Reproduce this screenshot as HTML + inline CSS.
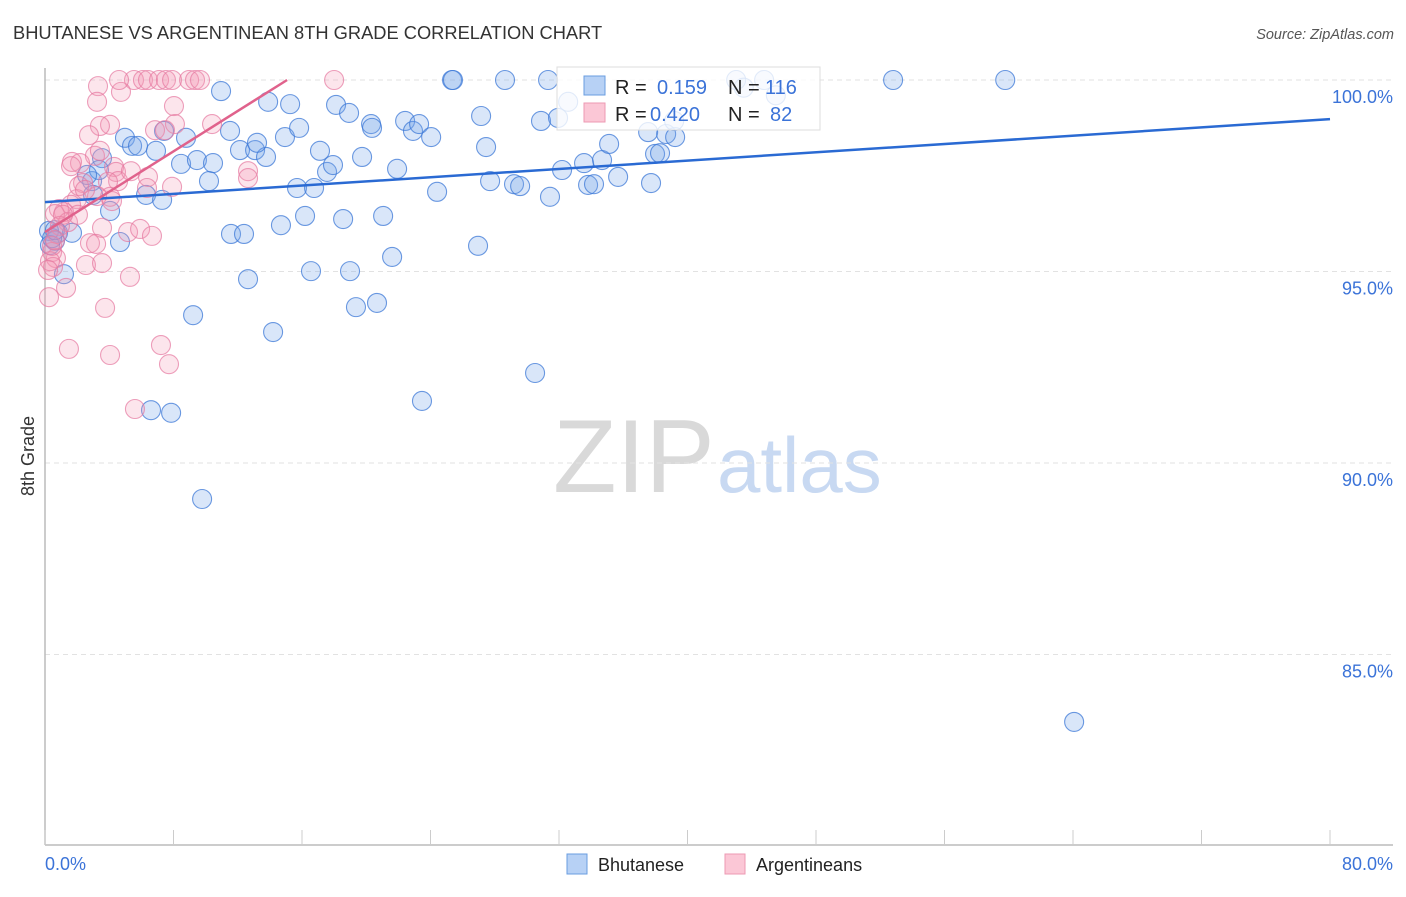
<!DOCTYPE html>
<html><head><meta charset="utf-8"><style>
body{margin:0;background:#fff;}
svg text{font-family:"Liberation Sans",sans-serif;}
</style></head><body>
<svg id="chart" width="1406" height="892" xmlns="http://www.w3.org/2000/svg">
<text x="13" y="39" font-size="18.3" fill="#333">BHUTANESE VS ARGENTINEAN 8TH GRADE CORRELATION CHART</text>
<text x="1394" y="39" font-size="14.5" fill="#555" font-style="italic" text-anchor="end">Source: ZipAtlas.com</text>
<g>
<text x="553" y="492" font-size="104" fill="#d9d9d9" font-family="Liberation Serif,serif">ZIP</text>
<text x="717" y="492" font-size="78" fill="#c8d9f2">atlas</text>
</g>
<g id="grid"></g>
<g id="axes"></g>
<g id="pts"></g>
<g id="trend"></g>
<g>
<rect x="557" y="67" width="263" height="63" fill="rgba(255,255,255,0.8)" stroke="#ddd"/>
<rect x="584" y="76" width="21" height="19" fill="#b7d1f5" stroke="#6a9de0"/>
<rect x="584" y="103" width="21" height="19" fill="#fbc7d6" stroke="#ec9ab3"/>
<text x="615" y="94" font-size="20" fill="#222">R =</text>
<text x="657" y="94" font-size="20" fill="#3b73d8">0.159</text>
<text x="728" y="94" font-size="20" fill="#222">N =</text>
<text x="765" y="94" font-size="20" fill="#3b73d8">116</text>
<text x="615" y="121" font-size="20" fill="#222">R =</text>
<text x="650" y="121" font-size="20" fill="#3b73d8">0.420</text>
<text x="728" y="121" font-size="20" fill="#222">N =</text>
<text x="770" y="121" font-size="20" fill="#3b73d8">82</text>
</g>
<text transform="translate(34,456) rotate(-90)" font-size="18" fill="#333" text-anchor="middle">8th Grade</text>
<text x="45" y="870" font-size="18" fill="#3b73d8">0.0%</text>
<text x="1393" y="870" font-size="18" fill="#3b73d8" text-anchor="end">80.0%</text>
<g>
<rect x="567" y="854" width="20" height="20" fill="#b7d1f5" stroke="#6a9de0"/>
<text x="598" y="871" font-size="18" fill="#222">Bhutanese</text>
<rect x="725" y="854" width="20" height="20" fill="#fbc7d6" stroke="#ec9ab3"/>
<text x="756" y="871" font-size="18" fill="#222">Argentineans</text>
</g>
</svg>
<script>
const yTicks=[100,95,90,85];
const yTickLabels=["100.0%","95.0%","90.0%","85.0%"];
const xTicks=[0,8,16,24,32,40,48,56,64,72,80];
const blueX=[10.96,25.34,28.64,31.32,25.40,43.03,44.77,52.80,59.78,13.89,15.26,18.12,18.93,27.15,22.42,22.91,23.29,24.04,20.30,20.36,30.88,31.94,32.57,11.52,8.78,7.41,4.98,5.42,5.79,6.91,12.14,13.08,13.76,13.20,14.94,15.82,17.12,19.74,17.56,17.93,21.92,27.46,15.69,16.75,24.41,27.71,29.20,29.58,31.44,32.19,33.56,33.81,34.18,34.68,35.12,35.68,37.55,37.98,38.29,37.73,38.67,39.23,39.17,8.47,9.46,10.46,10.21,3.55,2.93,3.36,2.62,4.05,6.29,7.29,2.99,0.81,0.62,1.68,4.67,11.58,12.39,14.69,16.19,18.56,21.05,26.96,21.61,16.56,18.99,12.64,1.18,19.36,20.67,9.22,14.20,30.51,23.47,6.60,7.85,9.78,64.07,0.25,0.31,0.44,0.62,43.5,45.5];
const blueY=[99.71,100,100,100,100,100,100,100,100,99.43,99.37,99.35,99.14,99.06,98.93,98.67,98.85,98.51,98.85,98.75,98.93,99.01,99.43,98.67,98.49,98.67,98.49,98.28,98.28,98.15,98.17,98.17,97.99,98.36,98.51,98.75,98.15,97.99,97.60,97.78,97.68,98.25,97.18,97.18,97.08,97.36,97.28,97.23,96.95,97.65,97.83,97.26,97.28,97.91,98.33,97.47,98.64,98.07,98.09,97.31,98.59,98.51,98.93,97.81,97.91,97.83,97.36,97.96,97.36,97.65,97.52,96.58,97.00,96.87,97.00,96.01,95.80,96.01,95.77,95.98,95.98,96.21,96.45,96.37,96.45,95.67,95.38,95.01,95.01,94.80,94.93,94.07,94.18,93.86,93.42,92.35,91.62,91.38,91.31,89.06,83.24,96.06,95.69,95.87,96.08,99.8,99.6];
const pinkX=[5.54,6.10,6.41,7.10,7.53,7.91,8.97,9.34,9.65,18.00,4.73,3.30,4.61,3.24,8.03,4.05,3.42,2.74,8.09,10.40,3.11,2.18,1.68,1.62,2.37,4.30,4.42,4.55,3.92,5.35,6.41,7.91,6.35,4.05,3.24,4.17,1.99,1.62,1.18,0.87,0.62,1.43,2.05,3.55,5.17,5.92,6.66,2.80,3.18,0.93,0.75,0.44,0.68,0.50,1.31,2.55,3.55,5.29,3.74,0.25,1.49,4.05,7.22,7.72,5.60,12.64,12.64,2.12,2.49,3.42,1.12,0.31,0.19,0.44,0.62,6.85,7.47];
const pinkY=[100,100,100,100,100,100,100,100,100,100,99.69,99.84,100,99.43,99.32,98.83,98.80,98.56,98.85,98.85,98.02,97.83,97.86,97.75,97.31,97.73,97.60,97.36,97.34,97.62,97.47,97.21,97.18,96.95,96.97,96.84,96.89,96.74,96.55,96.63,96.50,96.29,96.48,96.14,96.03,96.11,95.93,95.74,95.72,96.19,95.98,95.51,95.35,95.12,94.57,95.17,95.22,94.86,94.05,94.33,92.98,92.82,93.08,92.58,91.41,97.62,97.44,97.23,97.13,98.15,96.48,95.27,95.04,95.67,95.82,98.69,98.69];
const blueTrend=[96.81,98.98]; // y at x=0 and x=80
const pinkTrend=[96.03,0.2634]; // intercept, slope
const NS="http://www.w3.org/2000/svg";
function sx(v){return 45+v*(1285/80);}
function sy(v){return 80+(100-v)*38.3;}
function mk(tag,attrs,parent){const e=document.createElementNS(NS,tag);for(const k in attrs)e.setAttribute(k,attrs[k]);parent.appendChild(e);return e;}
const grid=document.getElementById('grid'),axes=document.getElementById('axes'),pts=document.getElementById('pts'),trend=document.getElementById('trend');
yTicks.forEach((t,i)=>{
 const l=mk('line',{x1:45,x2:1393,y1:sy(t),y2:sy(t),stroke:'#e2e2e2','stroke-dasharray':'5,4'},grid);
 
 
 const tx=mk('text',{x:1393,y:sy(t)+23,'font-size':18,fill:'#3b73d8','text-anchor':'end'},grid);
 tx.textContent=yTickLabels[i];
 
 
});
const ya=mk('line',{x1:45,x2:45,y1:68,y2:845,stroke:'#bbb','stroke-width':1.5},axes);


const xa=mk('line',{x1:45,x2:1393,y1:845,y2:845,stroke:'#bbb','stroke-width':1.5},axes);


xTicks.forEach(t=>{
 const l=mk('line',{x1:sx(t),x2:sx(t),y1:830,y2:845,stroke:'#ccc'},axes);
 
 
});
blueX.forEach((v,i)=>{
 const c=mk('circle',{cx:sx(v),cy:sy(blueY[i]),r:9.5,fill:'rgba(120,165,235,0.28)',stroke:'rgba(60,120,215,0.75)','stroke-width':1.1},pts);
 
 
});
pinkX.forEach((v,i)=>{
 const c=mk('circle',{cx:sx(v),cy:sy(pinkY[i]),r:9.5,fill:'rgba(245,150,180,0.25)',stroke:'rgba(230,120,160,0.7)','stroke-width':1.1},pts);
 
 
});
const bl=mk('line',{x1:sx(0),y1:sy(blueTrend[0]),x2:sx(80),y2:sy(blueTrend[1]),stroke:'#2a6ad3','stroke-width':2.5},trend);


const xe=(100-pinkTrend[0])/pinkTrend[1];
const pl=mk('line',{x1:sx(0),y1:sy(pinkTrend[0]),x2:sx(xe),y2:sy(100),stroke:'#e0628c','stroke-width':2.5},trend);


</script>
</body></html>
